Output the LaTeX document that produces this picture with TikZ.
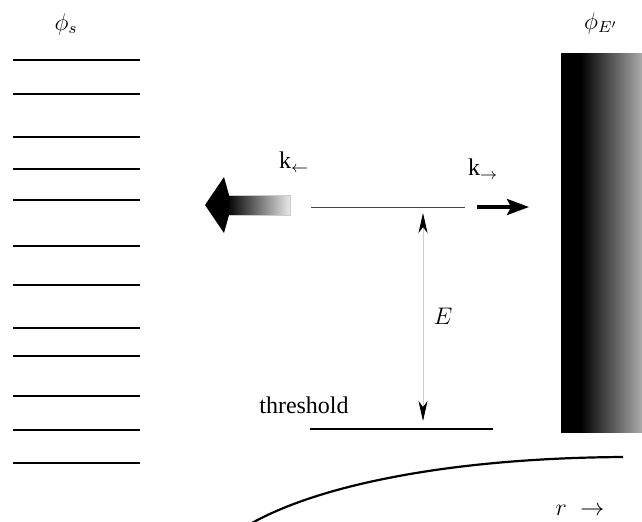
\documentclass[tikz,border=0pt]{standalone}
\usepackage{fontspec}
\setmainfont{Liberation Serif}
\usepackage{tikz}
\usetikzlibrary{arrows.meta, calc}
\definecolor{levelgray}{RGB}{70,70,70}
\definecolor{faintgray}{RGB}{205,205,205}
\definecolor{shaftgray}{RGB}{232,232,232}
\pgfdeclarehorizontalshading{continuum}{100bp}{color(0bp)=(black); color(25bp)=(black);
  color(37bp)=(black); color(75bp)=(black!33); color(100bp)=(black!33)}
\tikzset{
  boundline/.style={black, line width=1.1pt},
  label/.style={inner sep=0pt, font=\fontsize{12}{14}\selectfont},
}

\begin{document}
\begin{tikzpicture}[>=Stealth, x=0.5pt, y=-0.5pt]
  \useasboundingbox (0,0) rectangle (642,521);
  % Bound states
  \foreach \y in {60,94,137,169,200,246,285,328,356,396,430,463}
    \draw[boundline] (13,\y) -- (140,\y);
  \node[label] (phis) at (66,24) {$\phi_s$};
  % Continuum
  \shade[shading=continuum] (561,53) rectangle (642,432);
  \node[label] (phie) at (601,23) {$\phi_{E'}$};
  % Energy level and threshold
  \coordinate (lvlL) at (311,207);
  \coordinate (lvlR) at (465,207);
  \draw[levelgray, line width=0.5pt] (lvlL) -- (lvlR);
  \coordinate (thrL) at (310,429);
  \coordinate (thrR) at (493,429);
  \draw[boundline] (thrL) -- (thrR);
  \node[label] (thr) at (304,405) {threshold};
  % Energy E
  \coordinate (etop) at (423,213);
  \coordinate (ebot) at (423,421);
  \draw[faintgray, line width=0.4pt,
        arrows={Stealth[black, length=10pt, width=4.5pt, inset=3pt]-Stealth[black, length=10pt, width=4.5pt, inset=3pt]}]
    (etop) -- (ebot);
  \node[label] (elab) at (443,316) {$E$};
  % Wave vectors
  \shade[left color=black, right color=shaftgray, draw=black!20, line width=0.3pt] (227,195) rectangle (290,215);
  \fill[black] (205,205) -- (224,177) -- (229,195) -- (229,215) -- (224,233) -- cycle;
  \node[label] (kl) at (294,162) {k$_\leftarrow$};
  \coordinate (kfrom) at (477,207);
  \coordinate (kto) at (529,207);
  \draw[line width=1.6pt, -{Stealth[length=11pt, width=8pt, inset=2pt]}] (kfrom) -- (kto);
  \node[label] (kr) at (483,169) {k$_\rightarrow$};
  % Radial coordinate
  \draw[boundline] (252,523) .. controls (320,485) and (450,458) .. (623,457);
  \node[label] (rlab) at (580,510) {$r\;\rightarrow$};
\end{tikzpicture}
\end{document}
